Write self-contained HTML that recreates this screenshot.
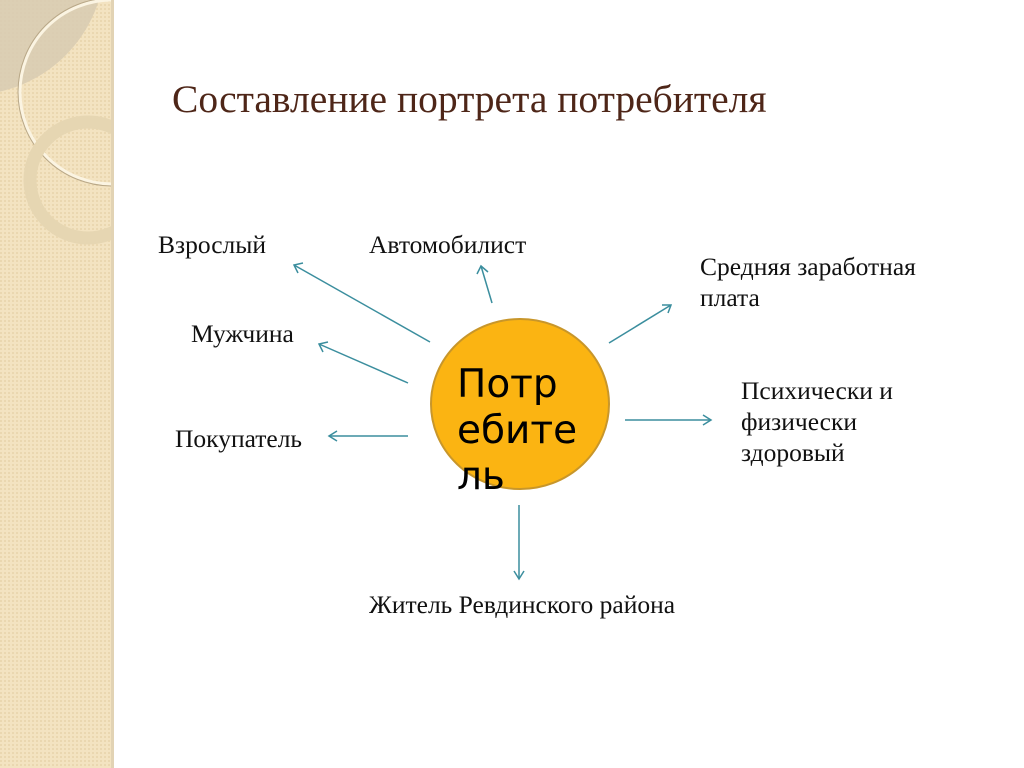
<!DOCTYPE html>
<html><head><meta charset="utf-8"><style>
html,body{margin:0;padding:0;background:#fff;}
body{width:1024px;height:768px;position:relative;overflow:hidden;font-family:"Liberation Serif",serif;}
.t{position:absolute;font-size:25.5px;color:#111;line-height:31px;white-space:nowrap;}
</style></head><body>
<svg width="1024" height="768" style="position:absolute;left:0;top:0">
<defs>
<pattern id="p" width="4" height="4" patternUnits="userSpaceOnUse">
<rect width="4" height="4" fill="#f3e3c1"/><rect width="2" height="2" fill="#ead7b0"/>
</pattern>
<clipPath id="c"><rect x="0" y="0" width="111" height="768"/></clipPath>
</defs>
<rect x="0" y="0" width="111" height="768" fill="url(#p)"/>
<g clip-path="url(#c)">
<circle cx="-30" cy="-40" r="135" fill="#d9ccb3" opacity="0.9"/>
<circle cx="112" cy="92" r="92" fill="none" stroke="#fbf4e2" stroke-width="3"/>
<circle cx="112" cy="92" r="94" fill="none" stroke="#b9a888" stroke-width="1"/>
<circle cx="88" cy="180" r="58" fill="none" stroke="#e6d6b2" stroke-width="13"/>
</g>
<rect x="111" y="0" width="3" height="768" fill="#e2d3b4"/>
<g stroke="#3b8e9e" stroke-width="1.5" fill="none">
<line x1="430" y1="342" x2="294" y2="265"/><polyline points="303,263 294,265 298,273"/>
<line x1="492" y1="303" x2="481" y2="266"/><polyline points="477,274 481,266 488,272"/>
<line x1="408" y1="383" x2="319" y2="344"/><polyline points="328,342 319,344 323,352"/>
<line x1="408" y1="436" x2="329" y2="436"/><polyline points="337,431 329,436 337,441"/>
<line x1="609" y1="343" x2="671" y2="305"/><polyline points="662,305 671,305 668,313"/>
<line x1="625" y1="420" x2="711" y2="420"/><polyline points="703,415 711,420 703,425"/>
<line x1="519" y1="505" x2="519" y2="579"/><polyline points="514,571 519,579 524,571"/>
</g>
<ellipse cx="520" cy="404" rx="89" ry="85" fill="#fbb412" stroke="#c8962a" stroke-width="2"/>
<g font-family="DejaVu Sans, sans-serif" font-size="39" fill="#000">
<text x="457" y="397">Потр</text>
<text x="457" y="443">ебите</text>
<text x="457" y="489">ль</text>
</g>
</svg>
<div class="t" style="left:172px;top:76px;font-size:39.5px;color:#4e2618;line-height:46px">Составление портрета потребителя</div>
<div class="t" style="left:158px;top:229px">Взрослый</div>
<div class="t" style="left:369px;top:229px">Автомобилист</div>
<div class="t" style="left:700px;top:251px">Средняя заработная<br>плата</div>
<div class="t" style="left:191px;top:318px">Мужчина</div>
<div class="t" style="left:741px;top:375px">Психически и<br>физически<br>здоровый</div>
<div class="t" style="left:175px;top:423px">Покупатель</div>
<div class="t" style="left:369px;top:589px">Житель Ревдинского района</div>
</body></html>
